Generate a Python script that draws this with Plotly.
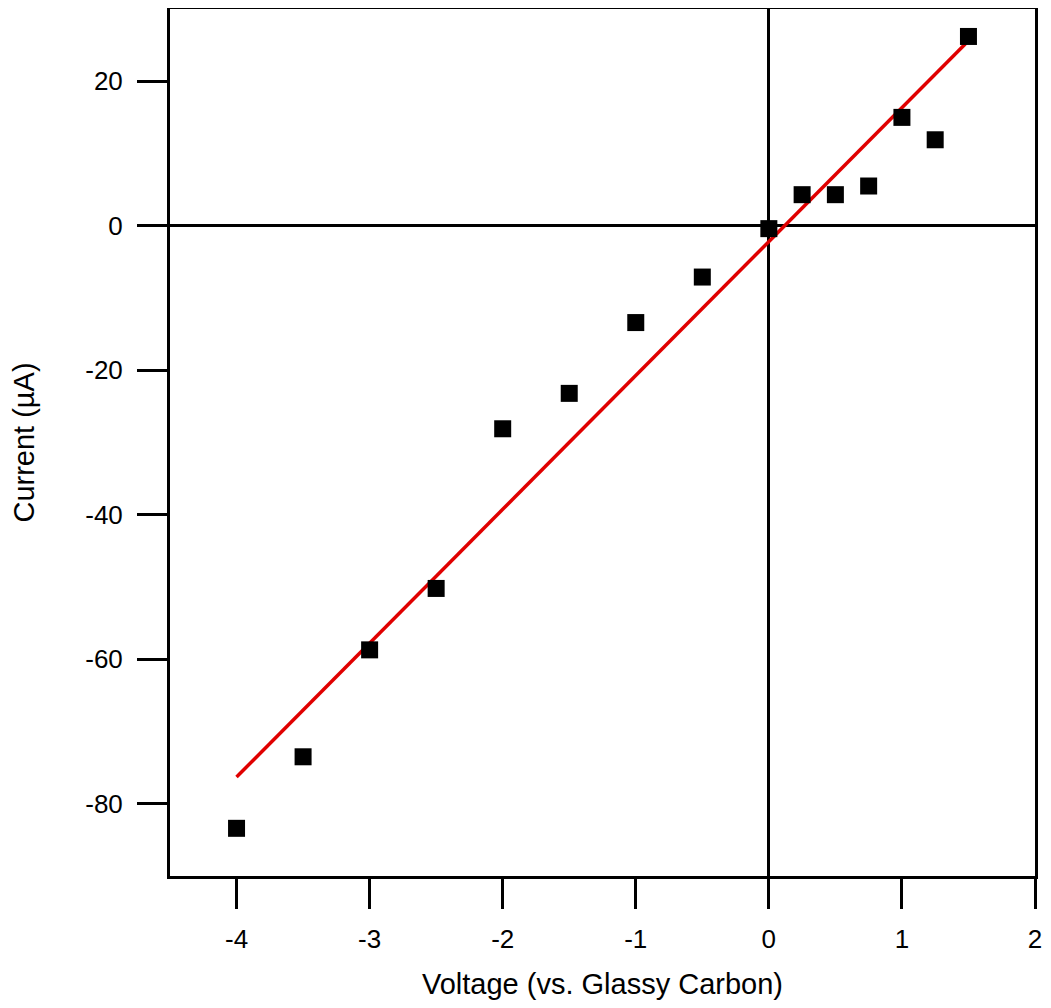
import plotly.graph_objects as go

# measured points (voltage vs. glassy carbon, current in uA)
voltage = [-4.0, -3.5, -3.0, -2.5, -2.0, -1.5, -1.0, -0.5, 0.0, 0.25, 0.5, 0.75, 1.0, 1.25, 1.5]
current = [-83.4, -73.5, -58.7, -50.2, -28.1, -23.2, -13.4, -7.1, -0.4, 4.3, 4.3, 5.5, 15.0, 11.9, 26.2]

# linear fit end points
fit_voltage = [-4.0, 1.5]
fit_current = [-76.3, 25.6]

x_ticks = [-4, -3, -2, -1, 0, 1, 2]
x_labels = ["-4", "-3", "-2", "-1", "0", "1", "2"]
y_ticks = [-80, -60, -40, -20, 0, 20]
y_labels = ["-80", "-60", "-40", "-20", "0", "20"]

font = "Liberation Sans, Arial, sans-serif"

fig = go.Figure()
fig.add_trace(go.Scatter(x=fit_voltage, y=fit_current, mode="lines",
                         line=dict(color="#e00000", width=3.5), showlegend=False))
fig.add_trace(go.Scatter(x=voltage, y=current, mode="markers",
                         marker=dict(symbol="square", size=17, color="black",
                                     line=dict(width=0)),
                         showlegend=False))

axis_common = dict(showgrid=False, showline=True, linecolor="black", linewidth=3,
                   mirror=True, ticks="outside", ticklen=30, tickwidth=3,
                   tickcolor="black", zeroline=True, zerolinecolor="black",
                   zerolinewidth=3, tickfont=dict(family=font, size=26, color="black"))

fig.update_xaxes(range=[-4.5, 2], tickvals=x_ticks, ticktext=x_labels, ticklabelstandoff=8,
                 title=dict(text="Voltage (vs. Glassy Carbon)", standoff=30,
                            font=dict(family=font, size=29, color="black")),
                 **axis_common)
fig.update_yaxes(range=[-90, 30], tickvals=y_ticks, ticktext=y_labels, ticklabelstandoff=9,
                 title=dict(text="Current (µA)", standoff=47,
                            font=dict(family=font, size=29, color="black")),
                 **axis_common)

# page body adds an 8px margin on every side, so the figure is sized to fit the window
fig.update_layout(width=1035, height=992, plot_bgcolor="white", paper_bgcolor="white",
                  margin=dict(l=162, r=8, t=1, b=124, autoexpand=False))
fig.write_html("out.html")
